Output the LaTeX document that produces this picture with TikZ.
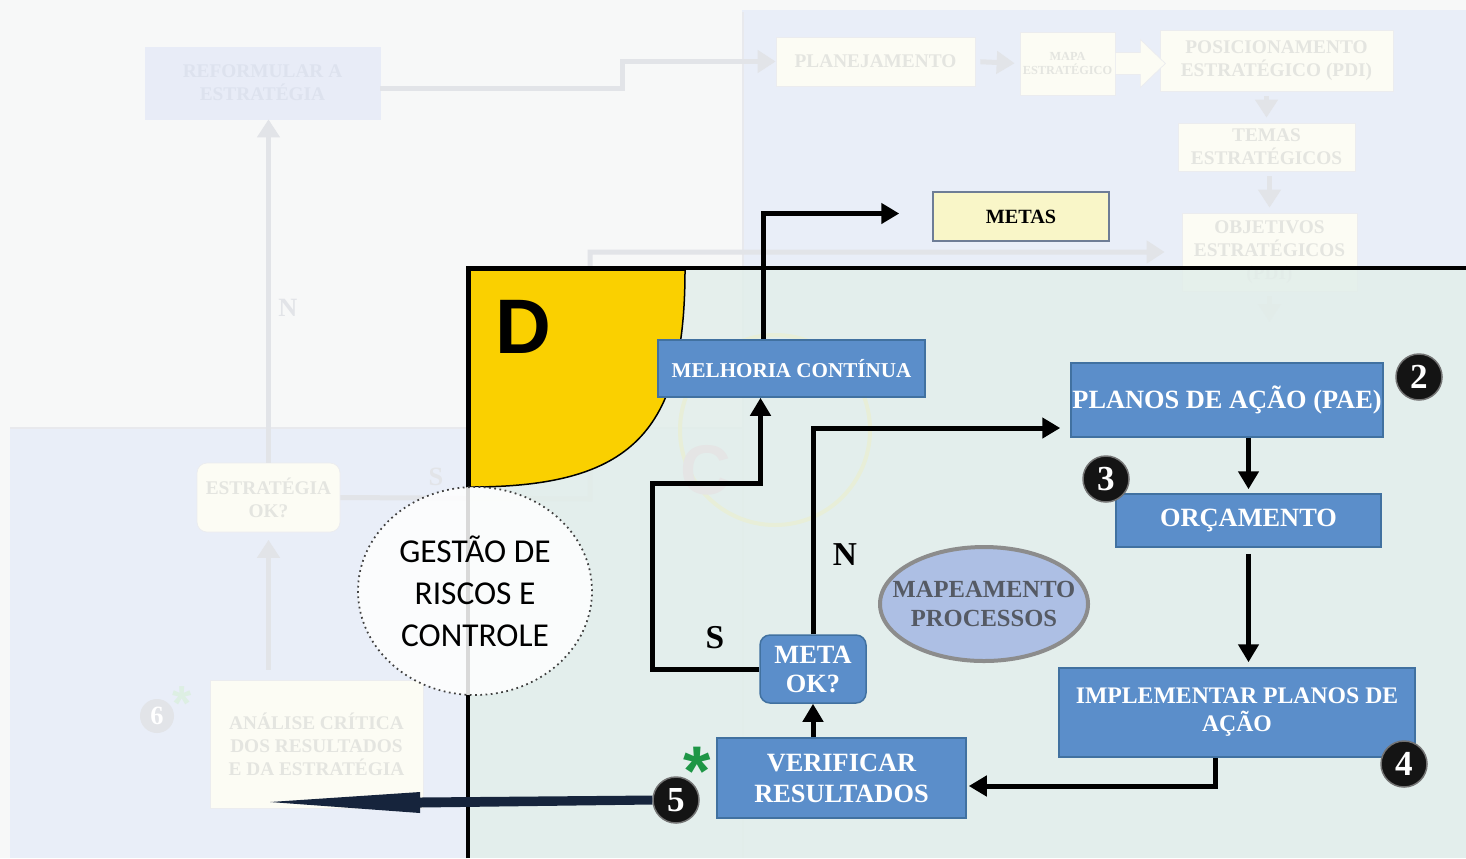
\documentclass[tikz,border=0pt]{standalone}
\usepackage{fontspec}
\setmainfont{Liberation Serif}
\newfontfamily\riscofont{Carlito}
\newfontfamily\letrafont{Liberation Sans}
\usepackage{tikz}
\usetikzlibrary{arrows.meta}
\usetikzlibrary{calc}
\usetikzlibrary{shapes.geometric}

\definecolor{fundo}{RGB}{247,248,248}
\definecolor{painelazul}{RGB}{233,238,248}
\definecolor{painelverde}{RGB}{226,238,234}
\definecolor{caixaazul}{RGB}{91,142,202}
\definecolor{bordaazul}{RGB}{65,113,160}
\definecolor{amarelod}{RGB}{250,208,0}
\definecolor{fantasma}{RGB}{232,238,216}
\definecolor{metasfill}{RGB}{249,246,200}
\definecolor{metasborda}{RGB}{110,125,150}
\definecolor{mapfill}{RGB}{173,191,228}
\definecolor{mapborda}{RGB}{140,140,140}
\definecolor{maptexto}{RGB}{85,90,100}
\definecolor{apagado}{RGB}{226,228,232}
\definecolor{apagadotexto}{RGB}{228,229,224}
\definecolor{apagadofill}{RGB}{252,252,244}
\definecolor{reformfill}{RGB}{232,236,247}
\definecolor{reformtexto}{RGB}{221,226,238}
\definecolor{navy}{RGB}{22,36,60}
\definecolor{verdeast}{RGB}{30,150,70}

\tikzset{
    etapa/.style={
        draw=bordaazul,
        fill=caixaazul,
        text=white,
        font=\bfseries\fontsize{15}{18}\selectfont,
        align=center,
        inner sep=0pt,
        line width=0.3mm,
    },
    fluxo/.style={
        line width=1mm,
        -{Triangle[length=3.6mm,width=4mm]},
    },
    numero/.style={
        circle,
        fill=black!92,
        draw=black!55,
        line width=0.3mm,
        text=white,
        font=\bfseries\fontsize{20}{20}\selectfont,
        minimum size=9.2mm,
        inner sep=0pt,
    },
    apagada/.style={
        draw=apagado!70,
        fill=apagadofill,
        text=apagadotexto,
        font=\bfseries\fontsize{11}{13}\selectfont,
        align=center,
        inner sep=0pt,
    },
    fluxo apagado/.style={
        draw=apagado,
        line width=1mm,
        -{Triangle[length=3.6mm,width=4.4mm]},
    },
    rotulo/.style={
        font=\bfseries\fontsize{19}{19}\selectfont,
    },
}

\begin{document}
\begin{tikzpicture}[x=0.2mm, y=-0.2mm]
    \useasboundingbox (0,0) rectangle (1466,858);

    % paineis de fundo
    \fill[fundo] (0,0) rectangle (1466,858);
    \fill[painelazul] (742,10) rectangle (1466,858);
    \fill[painelazul] (10,428) rectangle (742,858);
    \draw[apagado!80, line width=0.5mm] (743,12) -- (743,858);
    \draw[apagado!80, line width=0.5mm] (10,428) -- (742,428);

    % etapas apagadas (fora do foco)
    \node[apagada, fill=reformfill, draw=reformfill, text=reformtexto, minimum width=47mm, minimum height=14.4mm]
        (reformular) at (262.5,83) {REFORMULAR A\\ESTRATÉGIA};
    \node[apagada, minimum width=39.8mm, minimum height=9.8mm] (planejamento) at (875.5,61.5) {PLANEJAMENTO};
    \node[apagada, font=\bfseries\fontsize{7}{8}\selectfont, minimum width=19mm, minimum height=12.6mm]
        (mapa) at (1067.5,63.5) {MAPA\\ESTRATÉGICO};
    \node[apagada, minimum width=46.6mm, minimum height=12.2mm] (posicionamento) at (1276.5,60.5) {POSICIONAMENTO\\ESTRATÉGICO (PDI)};
    \node[apagada, minimum width=35.4mm, minimum height=9.6mm] (temas) at (1266.5,147) {TEMAS\\ESTRATÉGICOS};
    \node[apagada, minimum width=35mm, minimum height=15.6mm] (objetivos) at (1269.5,252) {OBJETIVOS\\ESTRATÉGICOS\\(PDI)};
    \node[apagada, rounded corners=2mm, minimum width=28.6mm, minimum height=13.8mm] (estrategia) at (268.5,497.5) {ESTRATÉGIA\\OK?};
    \node[apagada, minimum width=42.6mm, minimum height=25.6mm] (analise) at (316.5,744) {ANÁLISE CRÍTICA\\DOS RESULTADOS\\E DA ESTRATÉGIA};
    \node[numero, fill=apagado, draw=none, minimum size=6.8mm, font=\bfseries\fontsize{15}{15}\selectfont] (num6) at (157,716) {6};
    \node[text=verdeast!15, font=\letrafont\bfseries\fontsize{28}{28}\selectfont] (ast6) at (182,704) {*};
    \coordinate (sobe) at (590,499);
    \coordinate (desce) at (1269.5,322);

    \draw[fluxo apagado] ($(reformular.east)+(0,5)$) -- ++(242,0) |- (planejamento.west);
    \draw[fluxo apagado, shorten <=1mm, shorten >=1mm] (planejamento.east) -- (mapa.west);
    \filldraw[fill=apagadofill, draw=apagado!70] (mapa.east) ++(0,-11) -- ++(25,0) -- ++(0,-13) -- ++(25,24)
        -- ++(-25,24) -- ++(0,-13) -- ++(-25,0) -- cycle;
    \draw[fluxo apagado, shorten <=1mm, shorten >=1mm] (posicionamento.south -| temas.north) -- (temas.north);
    \draw[fluxo apagado, shorten <=1mm, shorten >=1mm] (temas.south -| objetivos.north) -- (objetivos.north);
    \draw[fluxo apagado, shorten <=1mm] (objetivos.south) -- (desce);
    \draw[fluxo apagado] (estrategia.north) -- (estrategia.north |- reformular.south);
    \draw[fluxo apagado, shorten <=2mm, shorten >=1.5mm] (estrategia.south |- analise.north) -- (estrategia.south);
    \draw[fluxo apagado, shorten >=3.4mm] (estrategia.east) -- (sobe) |- (objetivos.west);
    \node[rotulo, text=apagado, font=\bfseries\fontsize{15}{15}\selectfont] (rotNapagado) at (288,308) {N};
    \node[rotulo, text=apagado, font=\bfseries\fontsize{15}{15}\selectfont] (rotSapagado) at (436,477) {S};

    % area do D
    \fill[painelverde, fill opacity=0.85] (470,268) rectangle (1466,858);
    \draw[fantasma, line width=0.8mm] (775,430) circle[radius=95];
    \node[text=black!10, font=\letrafont\bfseries\fontsize{40}{40}\selectfont] (letraC) at (706,470) {C};
    \filldraw[fill=amarelod, draw=black, line width=0.3mm] (470,270) -- (685,270)
        .. controls (685,433) and (631,487) .. (470,487) -- cycle;
    \node[font=\letrafont\bfseries\fontsize{44}{44}\selectfont] (letraD) at (523,327) {D};
    \draw[line width=0.8mm] (468,858) -- (468,268) -- (1466,268);

    \node[ellipse, draw=black!75, dotted, line width=0.35mm, fill=white, fill opacity=0.85, text opacity=1,
        minimum width=46.8mm, minimum height=41.6mm, align=center,
        font=\riscofont\fontsize{19}{24}\selectfont] (gestao) at (475,591) {GESTÃO DE\\RISCOS E\\CONTROLE};

    % etapas do ciclo
    \node[etapa, font=\bfseries\fontsize{12}{14}\selectfont, minimum width=53.4mm, minimum height=11.4mm] (melhoria) at (791.5,368.5) {MELHORIA CONTÍNUA};
    \node[etapa, fill=metasfill, draw=metasborda, text=black, font=\bfseries\fontsize{11.5}{14}\selectfont,
        minimum width=35.2mm, minimum height=9.8mm] (metas) at (1021,216.5) {METAS};
    \node[etapa, minimum width=62.4mm, minimum height=14.8mm] (planos) at (1227,400) {PLANOS DE AÇÃO (PAE)};
    \node[etapa, minimum width=53mm, minimum height=10.6mm] (orcamento) at (1248.5,520.5) {ORÇAMENTO};
    \node[etapa, font=\bfseries\fontsize{13.5}{16}\selectfont, minimum width=71.2mm, minimum height=17.8mm] (implementar) at (1237,712.5) {IMPLEMENTAR PLANOS DE\\AÇÃO};
    \node[etapa, font=\bfseries\fontsize{15}{17.6}\selectfont, minimum width=49.8mm, minimum height=16mm] (verificar) at (841.5,778) {VERIFICAR\\RESULTADOS};
    \node[etapa, rounded corners=2mm, font=\bfseries\fontsize{15}{16.5}\selectfont, minimum width=21.2mm, minimum height=13.6mm] (metaok) at (813,669) {META\\OK?};
    \node[ellipse, draw=mapborda, fill=mapfill, line width=0.8mm, text=maptexto, align=center,
        font=\bfseries\fontsize{14}{16.5}\selectfont, minimum width=41.6mm, minimum height=22.8mm,
        inner xsep=-3.6mm, inner ysep=0pt] (mapeamento) at (984,604) {MAPEAMENTO\\PROCESSOS};

    \foreach \n/\x/\y in {2/1419/377, 3/1106/479, 4/1404/764, 5/676/800}
    {
        \node[numero] (num\n) at (\x,\y) {\n};
    }
    \node[text=verdeast, font=\letrafont\bfseries\fontsize{40}{40}\selectfont] (ast5) at (697,771) {*};

    % ligacoes
    \draw[fluxo] ($(melhoria.north)+(-28,0)$) |- ($(metas.west)+(-33,-3)$);
    \draw[fluxo, shorten >=0.8mm] (orcamento.north |- planos.south) -- (orcamento.north);
    \draw[fluxo] ($(orcamento.south)+(0,6)$) -- ($(orcamento.south |- implementar.north)+(0,-5)$);
    \draw[fluxo] ($(implementar.south)+(-22,0)$) |- ($(verificar.east)+(2,8)$);
    \draw[fluxo] (metaok.south |- verificar.north) -- (metaok.south);
    \coordinate (svolta) at (652,483);
    \draw[fluxo] (metaok.west) -| (svolta) -| ($(melhoria.south)+(-31,0)$);
    \draw[fluxo] (metaok.north) |- ($(planos.west)+(-10,28)$);
    \node[rotulo] (rotS) at (715,638) {S};
    \node[rotulo] (rotN) at (845,555) {N};

    \coordinate (ponta5) at (270,802);
    \fill[navy] ($(num5.west)+(0,-4.5)$) -- (420,797.5) -- (420,792) -- (ponta5) -- (420,813) -- (420,807.5)
        -- ($(num5.west)+(0,4.5)$) -- cycle;

\end{tikzpicture}
\end{document}
